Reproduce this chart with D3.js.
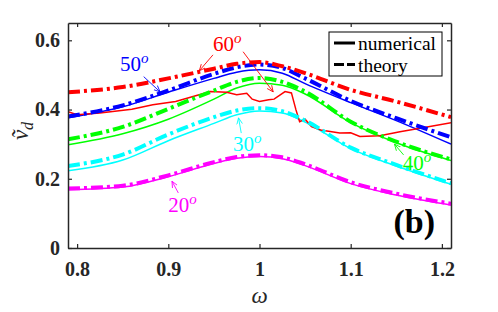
<!DOCTYPE html>
<meta charset="utf-8">
<html>
  <head>
    <style>
      body { margin: 0; background: white; }
      .num { fill: none; stroke-width: 1.5px; }
      .theo { fill: none; stroke-width: 4px; stroke-dasharray: 12,4,3,4; }
    </style>
  </head>
  <body>
    <script src="https://d3js.org/d3.v7.min.js"></script>
    <script>

      // frequency grid shared by the smooth curves
      var omega = [0.79, 0.85, 0.9, 0.95, 0.975, 1.0, 1.025, 1.05, 1.1, 1.15, 1.21];

      var angles = ["20", "30", "40", "50", "60"];
      var colors = ["#ff00ff", "#00ffff", "#00ff00", "#0000ff", "#ff0000"];

      var theory20 = [0.172, 0.180, 0.210, 0.248, 0.263, 0.268, 0.262, 0.242, 0.190, 0.157, 0.128];
      var numer20  = [0.168, 0.176, 0.206, 0.244, 0.259, 0.264, 0.258, 0.238, 0.186, 0.153, 0.124];
      var theory30 = [0.237, 0.270, 0.328, 0.378, 0.397, 0.404, 0.395, 0.368, 0.290, 0.240, 0.187];
      var numer30  = [0.223, 0.254, 0.310, 0.360, 0.385, 0.396, 0.390, 0.364, 0.287, 0.237, 0.184];
      var theory40 = [0.314, 0.350, 0.402, 0.455, 0.480, 0.491, 0.480, 0.452, 0.365, 0.307, 0.256];
      var numer40  = [0.298, 0.330, 0.372, 0.430, 0.462, 0.476, 0.470, 0.445, 0.362, 0.304, 0.253];
      var theory50 = [0.380, 0.412, 0.455, 0.503, 0.522, 0.530, 0.520, 0.490, 0.425, 0.375, 0.320];
      var numer50  = [0.376, 0.408, 0.450, 0.490, 0.508, 0.515, 0.505, 0.475, 0.420, 0.368, 0.300];
      var theory60 = [0.450, 0.465, 0.490, 0.518, 0.532, 0.537, 0.525, 0.505, 0.457, 0.423, 0.378];

      // the 60 degree numerical run is noisy, own grid
      var omega60 = [0.79, 0.80, 0.825, 0.86, 0.883, 0.908, 0.93, 0.946, 0.964, 0.975, 0.986, 0.992,
                     1.0, 1.01, 1.016, 1.028, 1.035, 1.04, 1.044, 1.05, 1.057, 1.067, 1.088, 1.1,
                     1.11, 1.132, 1.154, 1.176, 1.21];
      var numer60 = [0.394, 0.385, 0.390, 0.401, 0.414, 0.423, 0.440, 0.452, 0.450, 0.443, 0.447, 0.430,
                     0.423, 0.428, 0.430, 0.452, 0.448, 0.399, 0.365, 0.372, 0.351, 0.341, 0.332, 0.333,
                     0.322, 0.324, 0.336, 0.346, 0.362];

      var xTicks = [0.8, 0.9, 1.0, 1.1, 1.2];
      var yTicks = [0, 0.2, 0.4, 0.6];

      // annotation labels and arrows, in data units
      var labelAt = [[0.900, 0.103], [0.971, 0.280], [1.157, 0.225], [0.847, 0.512], [0.949, 0.570]];
      var arrows = [
        {c: 0, from: [0.911, 0.159], to: [0.904, 0.193]},
        {c: 1, from: [0.980, 0.332], to: [0.977, 0.376]},
        {c: 2, from: [1.158, 0.269], to: [1.148, 0.300]},
        {c: 3, from: [0.873, 0.495], to: [0.891, 0.451]},
        {c: 4, from: [0.949, 0.558], to: [0.934, 0.512]},
        {c: 4, from: [0.982, 0.567], to: [1.015, 0.451]}
      ];

      var serif = "Liberation Serif";

      var margin = {top: 23, left: 68},
          width = 383,
          height = 225;

      var axisColor = "#262626";

      var svg = d3.select("body").append("svg")
          .attr("width", 498)
          .attr("height", 312)
          .attr("font-family", serif);

      var g = svg.append("g")
          .attr("transform", "translate(" + margin.left + "," + margin.top + ")");

      var x = d3.scaleLinear().domain([0.79, 1.21]).range([0, width]);
      var y = d3.scaleLinear().domain([0, 0.65]).range([height, 0]);

      g.append("clipPath").attr("id", "clip")
        .append("rect").attr("width", width).attr("height", height);

      var line = d3.line()
          .x(function(d) { return x(d[0]); })
          .y(function(d) { return y(d[1]); })
          .curve(d3.curveMonotoneX);

      var theories = [theory20, theory30, theory40, theory50, theory60];
      var numers = [numer20, numer30, numer40, numer50];

      var plot = g.append("g").attr("clip-path", "url(#clip)");

      numers.forEach(function(vals, i) {
        plot.append("path")
            .datum(d3.zip(omega, vals))
            .attr("class", "num")
            .attr("stroke", colors[i])
            .attr("d", line);
      });

      plot.append("path")
          .datum(d3.zip(omega60, numer60))
          .attr("class", "num")
          .attr("stroke", colors[4])
          .attr("d", line.curve(d3.curveLinear));
      line.curve(d3.curveMonotoneX);

      theories.forEach(function(vals, i) {
        plot.append("path")
            .datum(d3.zip(omega, vals))
            .attr("class", "theo")
            .attr("stroke", colors[i])
            .attr("d", line);
      });

      // axes box, ticks inside
      var axes = [
        g.append("g")
          .attr("transform", "translate(0," + height + ")")
          .call(d3.axisBottom(x).tickValues(xTicks).tickSizeInner(-4).tickSizeOuter(0).tickPadding(14)
                .tickFormat(d3.format(""))),
        g.append("g")
          .call(d3.axisTop(x).tickValues(xTicks).tickSizeInner(-4).tickSizeOuter(0).tickFormat("")),
        g.append("g")
          .call(d3.axisLeft(y).tickValues(yTicks).tickSizeInner(-4).tickSizeOuter(0).tickPadding(8)
                .tickFormat(d3.format(""))),
        g.append("g")
          .attr("transform", "translate(" + width + ",0)")
          .call(d3.axisRight(y).tickValues(yTicks).tickSizeInner(-4).tickSizeOuter(0).tickFormat(""))
      ];
      axes.forEach(function(a) { a.attr("font-family", serif).attr("font-size", 20); });

      g.selectAll(".domain").attr("stroke", axisColor).attr("stroke-width", 1.5);
      g.selectAll(".tick line").attr("stroke", axisColor).attr("stroke-width", 1.2);
      g.selectAll(".tick text")
          .attr("fill", axisColor)
          .attr("font-weight", "bold");

      // axis labels
      svg.append("text")
          .attr("x", margin.left + x(1.0))
          .attr("y", 303)
          .attr("text-anchor", "middle")
          .attr("font-size", 23)
          .attr("font-style", "italic")
          .attr("fill", axisColor)
          .text("ω");

      var yl = svg.append("text")
          .attr("transform", "translate(28,131) rotate(-90)")
          .attr("text-anchor", "middle")
          .attr("font-size", 23)
          .attr("font-style", "italic")
          .attr("fill", axisColor);
      yl.append("tspan").text("ṽ");
      yl.append("tspan").attr("dy", 5).attr("font-size", 16).text("d");

      // panel tag
      g.append("text")
          .attr("x", width - 16)
          .attr("y", height - 15)
          .attr("text-anchor", "end")
          .attr("font-size", 34)
          .attr("font-weight", "bold")
          .attr("fill", "black")
          .text("(b)");

      // angle labels with arrows
      var defs = svg.append("defs");
      colors.forEach(function(c, i) {
        defs.append("marker")
            .attr("id", "arr" + i)
            .attr("viewBox", "0 0 10 10")
            .attr("refX", 9).attr("refY", 5)
            .attr("markerWidth", 7).attr("markerHeight", 7)
            .attr("markerUnits", "userSpaceOnUse")
            .attr("orient", "auto")
          .append("path")
            .attr("d", "M0,1 L9,5 L0,9")
            .attr("fill", "none")
            .attr("stroke", c)
            .attr("stroke-width", 1.2);
      });

      arrows.forEach(function(a) {
        g.append("line")
            .attr("x1", x(a.from[0])).attr("y1", y(a.from[1]))
            .attr("x2", x(a.to[0])).attr("y2", y(a.to[1]))
            .attr("stroke", colors[a.c])
            .attr("stroke-width", 0.9)
            .attr("marker-end", "url(#arr" + a.c + ")");
      });

      angles.forEach(function(t, i) {
        var lab = g.append("text")
            .attr("x", x(labelAt[i][0]))
            .attr("y", y(labelAt[i][1]))
            .attr("fill", colors[i])
            .attr("font-size", 21);
        lab.append("tspan").text(t);
        lab.append("tspan")
            .attr("dy", -8)
            .attr("font-size", 15)
            .attr("font-style", "italic")
            .text("o");
      });

      // legend
      var lg = g.append("g").attr("transform", "translate(" + (329 - margin.left) + "," + (32 - margin.top) + ")");
      lg.append("rect")
          .attr("width", 113).attr("height", 44)
          .attr("fill", "white")
          .attr("stroke", "black")
          .attr("stroke-width", 1);
      var entries = [["numerical", null], ["theory", "10,3"]];
      entries.forEach(function(e, i) {
        lg.append("line")
            .attr("x1", 5).attr("x2", 26)
            .attr("y1", 11 + i * 21.5).attr("y2", 11 + i * 21.5)
            .attr("stroke", "black")
            .attr("stroke-width", 3)
            .attr("stroke-dasharray", e[1]);
        lg.append("text")
            .attr("x", 29)
            .attr("y", 18 + i * 21.5)
            .attr("font-size", 19.5)
            .attr("fill", "black")
            .text(e[0]);
      });

    </script>
  </body>
</html>
